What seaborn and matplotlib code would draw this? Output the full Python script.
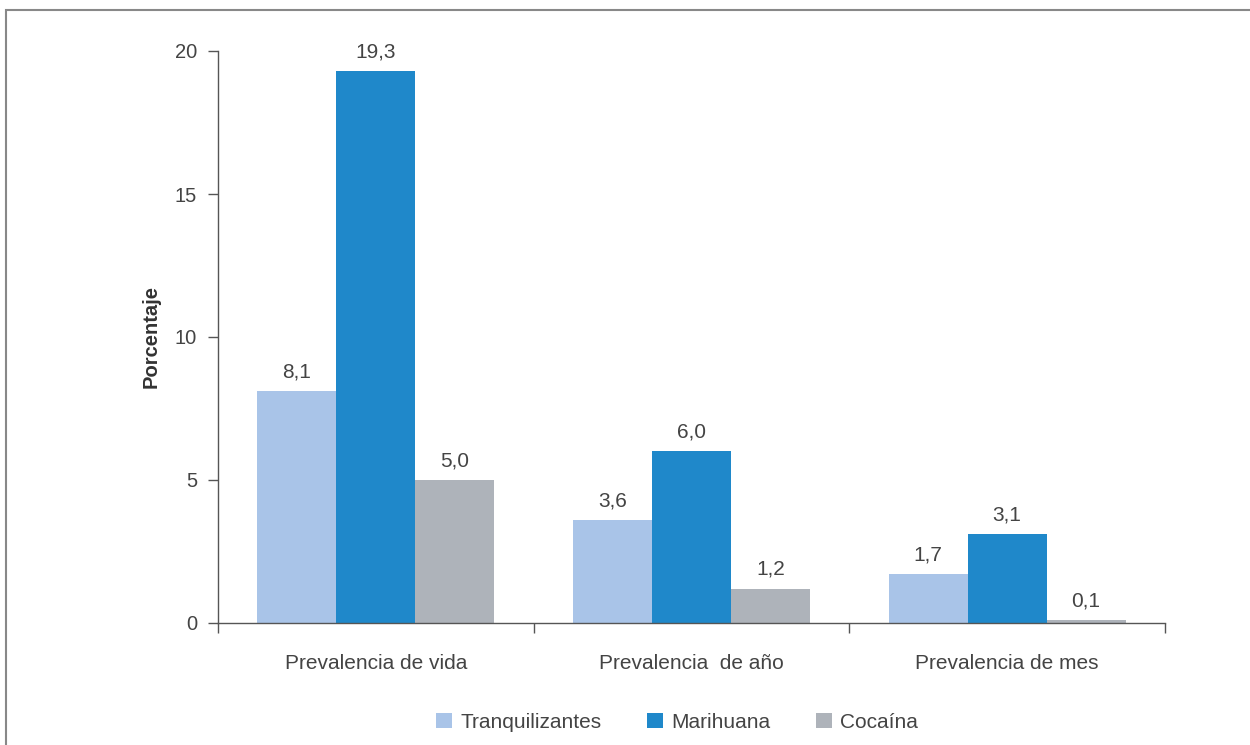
import matplotlib
matplotlib.use("Agg")
import matplotlib.pyplot as plt
import seaborn as sns
import pandas as pd
from matplotlib.patches import Rectangle, Patch

categories = ["Prevalencia de vida", "Prevalencia  de año", "Prevalencia de mes"]
series = ["Tranquilizantes", "Marihuana", "Cocaína"]
tranquilizantes = [8.1, 3.6, 1.7]
marihuana = [19.3, 6.0, 3.1]
cocaina = [5.0, 1.2, 0.1]
yticks = [0, 5, 10, 15, 20]

colors = ["#A9C4E8", "#1F88CA", "#AEB3BA"]

rows = []
for s, vals in zip(series, [tranquilizantes, marihuana, cocaina]):
    for c, v in zip(categories, vals):
        rows.append({"cat": c, "serie": s, "val": v})
df = pd.DataFrame(rows)

sns.set_theme(style="white")
plt.rcParams['font.family'] = ['Liberation Sans', 'DejaVu Sans']

fig = plt.figure(figsize=(12.5, 7.45), dpi=100)
ax = fig.add_axes([218/1250, 1-623/745, (1165-218)/1250, (623-51)/745])

sns.barplot(data=df, x="cat", y="val", hue="serie", order=categories,
            hue_order=series, palette=colors, width=0.75, gap=0,
            saturation=1, errorbar=None, ax=ax, legend=False, linewidth=0)

for cont in ax.containers:
    labels = [f"{v:.1f}".replace(".", ",") for v in cont.datavalues]
    ax.bar_label(cont, labels=labels, padding=7, fontsize=15, color="#444444")

ax.set_ylim(0, 20)
ax.set_xlim(-0.5, 2.5)
ax.set_yticks(yticks)
ax.set_yticklabels([str(t) for t in yticks], fontsize=14.5, color="#444444")
ax.set_xticks(range(len(categories)))
ax.set_xticklabels(categories, fontsize=15, color="#444444")
ax.set_xticks([-0.5, 0.5, 1.5, 2.5], minor=True)
ax.tick_params(axis="x", which="major", length=0, pad=22)
ax.tick_params(axis="x", which="minor", length=7, direction="out", color="#555555", width=1, bottom=True)
ax.tick_params(axis="y", which="major", length=7, direction="out", color="#555555", width=1, left=True, pad=8)
ax.set_xlabel("")
ax.set_ylabel("Porcentaje", fontsize=14.5, fontweight="bold", color="#333333", labelpad=10)

for side in ["top", "right"]:
    ax.spines[side].set_visible(False)
for side in ["left", "bottom"]:
    ax.spines[side].set_color("#555555")
    ax.spines[side].set_linewidth(1)

handles = [Patch(facecolor=c, edgecolor="none") for c in colors]
fig.legend(handles, series, loc="center", bbox_to_anchor=(0.5416, 1-722/745), ncol=3,
           frameon=False, fontsize=15, handlelength=0.75, handleheight=0.75,
           handletextpad=0.4, columnspacing=2.2, labelcolor="#444444")

border = Rectangle((5.5/1250, -0.1), 1.2, 1.1 - 9.5/745, transform=fig.transFigure,
                   fill=False, edgecolor="#888888", linewidth=1.5, clip_on=False)
fig.patches.append(border)

fig.savefig("out.png", dpi=100)
